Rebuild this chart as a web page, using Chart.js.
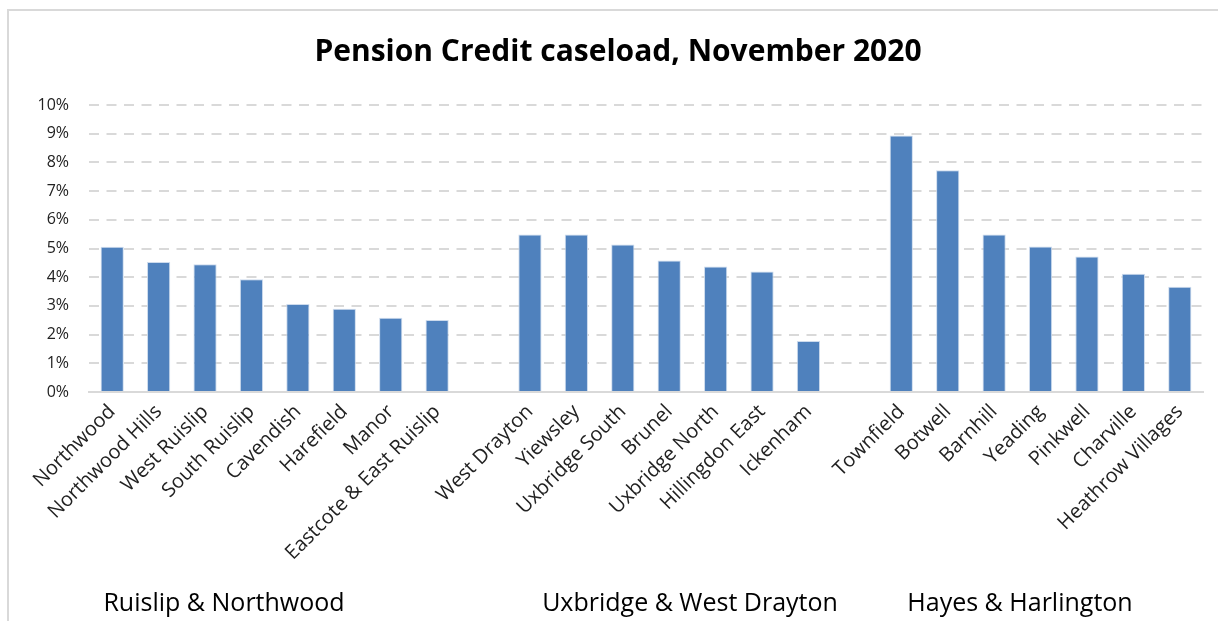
<!DOCTYPE html>
<html>
<head>
<meta charset="utf-8">
<script src="https://cdn.jsdelivr.net/npm/chart.js@4"></script>
<style>
  html, body { margin: 0; padding: 0; background: #fff; }
  #wrap { width: 1218px; height: 621px; position: relative; }
</style>
</head>
<body>
<div id="wrap"><canvas id="c" width="1218" height="621"></canvas></div>
<script>
// ---- data ----
const wards = [
  'Northwood', 'Northwood Hills', 'West Ruislip', 'South Ruislip', 'Cavendish', 'Harefield', 'Manor', 'Eastcote & East Ruislip',
  '',
  'West Drayton', 'Yiewsley', 'Uxbridge South', 'Brunel', 'Uxbridge North', 'Hillingdon East', 'Ickenham',
  '',
  'Townfield', 'Botwell', 'Barnhill', 'Yeading', 'Pinkwell', 'Charville', 'Heathrow Villages'
];
const caseloadPct = [
  5.06, 4.53, 4.45, 3.93, 3.07, 2.90, 2.59, 2.51,
  null,
  5.49, 5.49, 5.14, 4.58, 4.37, 4.20, 1.78,
  null,
  8.94, 7.73, 5.49, 5.07, 4.72, 4.12, 3.67
];
const groupNames = ['Ruislip & Northwood', 'Uxbridge & West Drayton', 'Hayes & Harlington'];
const yTicks = [0, 1, 2, 3, 4, 5, 6, 7, 8, 9, 10];
const chartTitle = 'Pension Credit caseload, November 2020';

const FONT = '"Open Sans", Lato, sans-serif';

const framePlugin = {
  id: 'frame',
  beforeDraw(chart) {
    const ctx = chart.ctx;
    ctx.save();
    ctx.strokeStyle = '#D9D9D9';
    ctx.lineWidth = 2;
    ctx.beginPath();
    ctx.moveTo(8, 621);
    ctx.lineTo(8, 10);
    ctx.lineTo(1218, 10);
    ctx.stroke();
    ctx.restore();
  }
};

const groupLabelPlugin = {
  id: 'groupLabels',
  afterDraw(chart, args, opts) {
    const ctx = chart.ctx;
    ctx.save();
    ctx.fillStyle = '#000';
    ctx.font = '25px ' + FONT;
    ctx.textAlign = 'center';
    ctx.textBaseline = 'middle';
    groupNames.forEach((g, i) => ctx.fillText(g, opts.x[i], opts.y));
    ctx.restore();
  }
};

new Chart(document.getElementById('c'), {
  type: 'bar',
  data: {
    labels: wards,
    datasets: [{
      data: caseloadPct,
      backgroundColor: '#4F81BD',
      borderColor: 'rgba(200,215,235,0.9)',
      borderWidth: 1,
      categoryPercentage: 1.0,
      barPercentage: 0.5
    }]
  },
  options: {
    responsive: false,
    animation: false,
    devicePixelRatio: 1,
    layout: { padding: { left: 33, right: 15, top: 0, bottom: 0 } },
    plugins: {
      legend: { display: false },
      tooltip: { enabled: false },
      title: {
        display: true,
        text: chartTitle,
        color: '#000',
        font: { family: FONT, size: 30, weight: 'bold' },
        padding: { top: 34, bottom: 35 }
      },
      groupLabels: { x: [224, 690, 1020], y: 604 }
    },
    scales: {
      x: {
        grid: { display: false },
        border: { display: true, color: '#D9D9D9', width: 2 },
        ticks: {
          autoSkip: false,
          maxRotation: 45,
          minRotation: 45,
          color: '#222',
          font: { family: FONT, size: 20 },
          padding: 0
        },
        afterFit(scale) { scale.height = 229; }
      },
      y: {
        min: 0,
        max: 10,
        afterBuildTicks(scale) { scale.ticks = yTicks.map(v => ({ value: v })); },
        grid: { color: '#D9D9D9', lineWidth: 2, drawTicks: false },
        border: { display: false, dash: [10, 7.5] },
        ticks: {
          color: '#222',
          font: { family: FONT, size: 16 },
          padding: 20,
          callback: v => v + '%'
        },
        afterFit(scale) { scale.width = 56; }
      }
    }
  },
  plugins: [framePlugin, groupLabelPlugin]
});
</script>
</body>
</html>
